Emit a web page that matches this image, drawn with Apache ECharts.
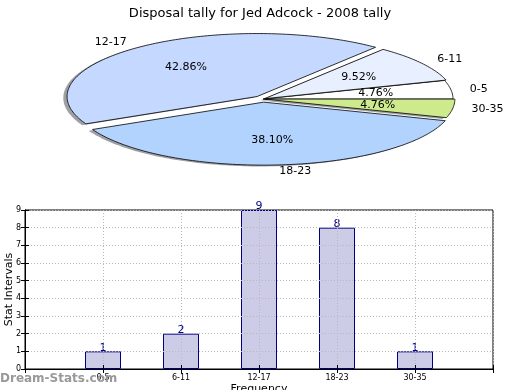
<!DOCTYPE html>
<html>
<head>
<meta charset="utf-8">
<script src="https://cdn.jsdelivr.net/npm/echarts@6/dist/echarts.min.js"></script>
<style>html,body{margin:0;padding:0;background:#fff;}#c{width:520px;height:390px;}</style>
</head>
<body>
<div id="c"></div>
<script>
const categories = ['0-5', '6-11', '12-17', '18-23', '30-35'];
const counts = [1, 2, 9, 8, 1];
const pieColors = ['#ffffff', '#e8f0ff', '#c5d8ff', '#b3d3ff', '#cdea8c'];
const explode = [0, 0.01, 0.05, 0.05, 0.01];
const yTicks = [0, 1, 2, 3, 4, 5, 6, 7, 8, 9];

const FONT = 'DejaVu Sans';
const total = counts.reduce((a, b) => a + b, 0);
const starts = [];
{ let acc = 0; counts.forEach(v => { starts.push(acc); acc += v; }); }

// pie geometry (ellipse, matplotlib-like)
const PC = { cx: 263, cy: 99, rx: 190, ry: 63 };

function wedgeGeom(idx, val) {
  const t1 = 2 * Math.PI * starts[idx] / total;
  const t2 = t1 + 2 * Math.PI * val / total;
  const mid = (t1 + t2) / 2;
  const e = explode[idx];
  const ox = PC.cx + e * Math.cos(mid) * PC.rx;
  const oy = PC.cy - e * Math.sin(mid) * PC.ry;
  const pts = [[ox, oy]];
  const n = Math.max(8, Math.ceil((t2 - t1) / 0.02));
  for (let k = 0; k <= n; k++) {
    const t = t1 + (t2 - t1) * k / n;
    pts.push([ox + PC.rx * Math.cos(t), oy - PC.ry * Math.sin(t)]);
  }
  return { pts, mid, e };
}

const pieData = counts.map((v, i) => ({ value: [v, i], name: categories[i] }));

const chart = echarts.init(document.getElementById('c'), null, { renderer: 'canvas' });
chart.setOption({
  animation: false,
  backgroundColor: '#ffffff',
  textStyle: { fontFamily: FONT },
  title: {
    text: 'Disposal tally for Jed Adcock - 2008 tally',
    left: 'center', top: 2,
    textStyle: { fontFamily: FONT, fontSize: 13, fontWeight: 'normal', color: '#000' }
  },
  graphic: [{
    type: 'text', left: 0, top: 373, z: 100,
    style: { text: 'Dream-Stats.com', font: 'bold 12px "' + FONT + '"', fill: '#999999' }
  }],
  grid: {
    left: 25, right: 27, top: 210, bottom: 21,
    containLabel: false, outerBoundsMode: 'none',
    show: true, borderColor: '#000', borderWidth: 1, backgroundColor: 'transparent'
  },
  xAxis: [{
    type: 'value', min: 0, max: 6, interval: 1, position: 'bottom', z: 5,
    name: 'Frequency', nameLocation: 'middle', nameGap: 15, nameMoveOverlap: false,
    nameTextStyle: { fontFamily: FONT, fontSize: 11, color: '#000' },
    axisLine: { show: true, lineStyle: { color: '#000', width: 1 } },
    axisTick: { show: true, inside: true, length: 4, lineStyle: { color: '#000' } },
    axisLabel: {
      fontFamily: FONT, fontSize: 8, color: '#000', margin: 5,
      formatter: v => categories[v - 1] || ''
    },
    splitLine: { show: true, lineStyle: { color: '#b8b8b8', type: [1, 2], width: 1 } }
  }, {
    type: 'value', min: 0, max: 6, interval: 1, position: 'top', z: 5,
    axisLine: { show: true, lineStyle: { color: '#000' } },
    axisTick: { show: true, inside: true, length: 4, lineStyle: { color: '#000' } },
    axisLabel: { show: false }, splitLine: { show: false }
  }],
  yAxis: [{
    type: 'value', min: yTicks[0], max: yTicks[yTicks.length - 1], interval: 1, z: 5,
    name: 'Stat Intervals', nameLocation: 'middle', nameGap: 10, nameMoveOverlap: false,
    nameTextStyle: { fontFamily: FONT, fontSize: 11, color: '#000' },
    axisLine: { show: true, lineStyle: { color: '#000', width: 1 } },
    axisTick: { show: true, inside: true, length: 4, lineStyle: { color: '#000' } },
    axisLabel: { fontFamily: FONT, fontSize: 8, color: '#000', margin: 4 },
    splitLine: { show: true, lineStyle: { color: '#b8b8b8', type: [1, 2], width: 1 } }
  }, {
    type: 'value', min: yTicks[0], max: yTicks[yTicks.length - 1], interval: 1, position: 'right', z: 5,
    axisLine: { show: true, lineStyle: { color: '#000' } },
    axisTick: { show: true, inside: true, length: 4, lineStyle: { color: '#000' } },
    axisLabel: { show: false }, splitLine: { show: false }
  }],
  series: [
    {
      type: 'bar', xAxisIndex: 0, yAxisIndex: 0, barWidth: 36, z: 2,
      data: counts.map((v, i) => [i + 1, v]),
      itemStyle: { color: '#cccce6', borderColor: '#000080', borderWidth: 1 },
      label: {
        show: true, position: 'top', distance: -2,
        fontFamily: FONT, fontSize: 11, color: '#00008b',
        formatter: p => String(p.value[1])
      }
    },
    {
      type: 'custom', coordinateSystem: 'none', z: 1, silent: true,
      data: pieData,
      renderItem: function (params, api) {
        const idx = api.value(1), val = api.value(0);
        const g = wedgeGeom(idx, val);
        const pts = g.pts.map(p => [p[0] - 3.8, p[1] + 1.3]);
        return {
          type: 'polygon', shape: { points: pts },
          style: { fill: 'rgba(40,45,55,0.45)', stroke: 'none' }
        };
      }
    },
    {
      type: 'custom', coordinateSystem: 'none', z: 3, silent: true,
      data: pieData,
      renderItem: function (params, api) {
        const idx = api.value(1), val = api.value(0);
        const g = wedgeGeom(idx, val);
        const c = Math.cos(g.mid), s = Math.sin(g.mid);
        const lx = PC.cx + (g.e + 1.1) * c * PC.rx;
        const ly = PC.cy - (g.e + 1.1) * s * PC.ry;
        const px = PC.cx + (g.e + 0.6) * c * PC.rx;
        const py = PC.cy - (g.e + 0.6) * s * PC.ry;
        return {
          type: 'group',
          children: [{
            type: 'polygon', shape: { points: g.pts },
            style: { fill: pieColors[idx], stroke: '#000', lineWidth: 0.8 }
          }, {
            type: 'text', z2: 10,
            style: {
              x: lx, y: ly, text: categories[idx],
              font: '11px "' + FONT + '"', fill: '#000',
              align: c > 0 ? 'left' : 'right', verticalAlign: 'middle'
            }
          }, {
            type: 'text', z2: 10,
            style: {
              x: px, y: py, text: (100 * val / total).toFixed(2) + '%',
              font: '11px "' + FONT + '"', fill: '#000',
              align: 'center', verticalAlign: 'middle'
            }
          }]
        };
      }
    }
  ]
});
</script>
</body>
</html>
